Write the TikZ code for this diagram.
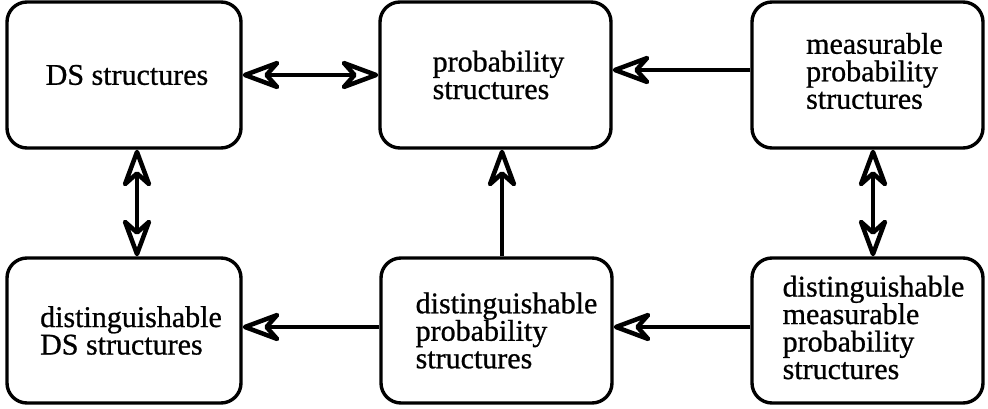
\documentclass[tikz,border=0pt]{standalone}
\usepackage{fontspec}
\setmainfont{Liberation Serif}
\newfontfamily\lblfont[FakeBold=0.8]{Liberation Serif}
\usetikzlibrary{arrows.meta}
\tikzset{
  box/.style={draw, line width=3.4pt, rounded corners=20pt, minimum width=231pt,
    minimum height=146pt, inner sep=0pt},
  lbl/.style={align=left, inner sep=0pt, font=\lblfont\fontsize{30}{27.5}\selectfont},
  conn/.style={line width=3.2pt, arrows={-Stealth[open, round, length=46pt, width=34pt, inset=15pt, line width=4.5pt]}},
  biconn/.style={line width=3.2pt, arrows={Stealth[open, round, length=46pt, width=34pt, inset=15pt, line width=4.5pt]-Stealth[open, round, length=46pt, width=34pt, inset=15pt, line width=4.5pt]}}
}
\begin{document}
\begin{tikzpicture}[x=1pt,y=1pt]
\useasboundingbox (0,0) rectangle (988,409);
\node[box, minimum width=234pt] (b1) at (124,334) {};
\node[box] (b2) at (495.5,334) {};
\node[box] (b3) at (867.5,334) {};
\node[box, minimum width=234pt, minimum height=145pt] (b4) at (124,78.5) {};
\node[box, minimum height=145pt] (b5) at (496.5,78.5) {};
\node[box, minimum height=145pt] (b6) at (867.5,78.5) {};
\node[lbl] (t1) at ([xshift=3pt]b1.center) {DS structures};
\node[lbl] (t2) at ([xshift=3pt]b2.center) {probability\\structures};
\node[lbl] (t3) at ([xshift=7pt,yshift=4pt]b3.center) {measurable\\probability\\structures};
\node[lbl] (t4) at ([xshift=7pt]b4.center) {distinguishable\\DS structures};
\node[lbl] (t5) at ([xshift=10pt]b5.center) {distinguishable\\probability\\structures};
\node[lbl] (t6) at ([xshift=6pt,yshift=3pt]b6.center) {distinguishable\\measurable\\probability\\structures};
\draw[biconn] (b1.east) -- (b2.west);
\draw[conn] ([yshift=5pt]b3.west) -- ([yshift=5pt]b3.west -| b2.east);
\draw[biconn] ([xshift=13pt]b1.south) -- ([xshift=13pt]b1.south |- b4.north);
\draw[biconn] ([xshift=5.5pt]b3.south) -- ([xshift=5.5pt]b3.south |- b6.north);
\draw[conn] ([xshift=5.5pt]b5.north) -- ([xshift=5.5pt]b5.north |- b2.south);
\draw[conn] ([yshift=3.5pt]b5.west) -- ([yshift=3.5pt]b5.west -| b4.east);
\draw[conn] ([yshift=3.5pt]b6.west) -- ([yshift=3.5pt]b6.west -| b5.east);
\end{tikzpicture}
\end{document}
